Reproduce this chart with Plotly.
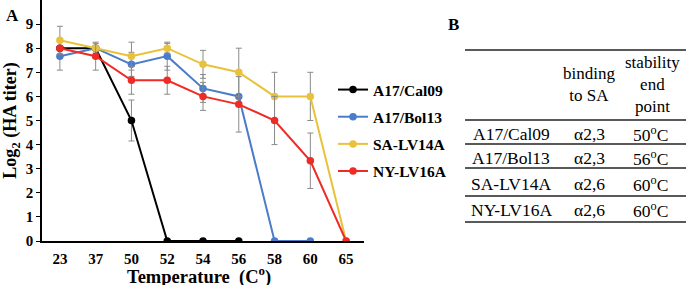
import plotly.graph_objects as go

temps = ["23", "37", "50", "52", "54", "56", "58", "60", "65"]

cal09_x = ["23", "37", "50", "52", "54", "56"]
cal09_y = [8, 8, 5, 0, 0, 0]
cal09_err = [0, 0, 0.85, 0, 0, 0]

bol13_x = ["23", "37", "50", "52", "54", "56", "58", "60"]
bol13_y = [7.67, 8, 7.33, 7.67, 6.33, 6, 0, 0]
bol13_err = [0.58, 0, 0.5, 0.58, 0.58, 0, 0, 0]

sa_x = temps
sa_y = [8.33, 8, 7.67, 8, 7.33, 7, 6, 6, 0]
sa_err = [0.58, 0.2, 0.58, 0.2, 0.58, 1.0, 1.0, 1.0, 0]

ny_x = temps
ny_y = [8, 7.67, 6.67, 6.67, 6, 5.67, 5, 3.33, 0]
ny_err = [0, 0.58, 0.58, 0.58, 0.58, 1.15, 1.0, 1.15, 0]

series = [
    ("A17/Cal09", cal09_x, cal09_y, cal09_err, "#000000"),
    ("A17/Bol13", bol13_x, bol13_y, bol13_err, "#4a7cc9"),
    ("SA-LV14A", sa_x, sa_y, sa_err, "#e8c23a"),
    ("NY-LV16A", ny_x, ny_y, ny_err, "#ee2b24"),
]

tbl_strain = ["A17/Cal09", "A17/Bol13", "SA-LV14A", "NY-LV16A"]
tbl_binding = ["α2,3", "α2,3", "α2,6", "α2,6"]
tbl_end = ["50", "56", "60", "60"]

SERIF = "Liberation Serif"

W, H = 686, 285
L, R, T, B = 42, 322, 0, 44
PW, PH = W - L - R, H - T - B


def px_x(p):
    return (p - L) / PW


def px_y(p):
    return (H - B - p) / PH


fig = go.Figure()
for i, (name, xs, ys, es, col) in enumerate(series):
    fig.add_trace(go.Scatter(
        x=xs, y=ys, name=name, mode="lines+markers",
        line=dict(color=col, width=2),
        marker=dict(color=col, size=7.5),
        error_y=dict(type="data", array=es, visible=True, color="#8a8a8a",
                     thickness=1, width=3),
        legendgroup=f"g{i}",
    ))

fig.update_layout(
    width=W, height=H,
    margin=dict(l=L, r=R, t=T, b=B, pad=0),
    paper_bgcolor="white", plot_bgcolor="white",
    font=dict(family=SERIF, color="black"),
    showlegend=True,
    legend=dict(x=px_x(333), y=px_y(73),
                xanchor="left", yanchor="top",
                font=dict(family=SERIF, size=15.5, color="black", weight="bold"),
                tracegroupgap=4, itemwidth=30, bgcolor="rgba(0,0,0,0)"),
    xaxis=dict(type="category", categoryorder="array", categoryarray=temps,
               range=[-0.5, 8.5], showline=True, linecolor="black", linewidth=1.5,
               showgrid=False, ticks="", zeroline=False, ticklabelstandoff=3,
               tickfont=dict(family=SERIF, size=15, weight="bold")),
    yaxis=dict(range=[0, 10], tickvals=list(range(10)), showline=True,
               linecolor="black", linewidth=1.5, showgrid=False, zeroline=False,
               ticks="outside", ticklen=4, tickcolor="black",
               tickfont=dict(family=SERIF, size=15, weight="bold"),
               title=dict(text="Log<sub>2</sub> (HA titer)", standoff=5,
                          font=dict(family=SERIF, size=18, weight="bold"))),
)

# x-axis title placed below the tick labels
fig.add_annotation(text="<b>Temperature  (C<sup>o</sup>)</b>", xref="paper", yref="paper",
                   x=px_x(199), y=px_y(289), showarrow=False, borderpad=0,
                   font=dict(family=SERIF, size=18.5), xanchor="center", yanchor="bottom")

# Panel labels
fig.add_annotation(text="<b>A</b>", xref="paper", yref="paper",
                   x=px_x(12), y=px_y(15), showarrow=False,
                   font=dict(family=SERIF, size=17), xanchor="center", yanchor="middle")
fig.add_annotation(text="<b>B</b>", xref="paper", yref="paper",
                   x=px_x(453), y=px_y(25), showarrow=False,
                   font=dict(family=SERIF, size=17), xanchor="center", yanchor="middle")

# Table lines
line_ys = [50, 120, 144, 168, 196, 222]
for k, ly in enumerate(line_ys):
    fig.add_shape(type="line", xref="paper", yref="paper",
                  x0=px_x(465), x1=px_x(686), y0=px_y(ly), y1=px_y(ly),
                  line=dict(color="#222222", width=1.6 if k in (0, 5) else 1.3))

col_cx = [511, 589, 650]
tfont = dict(family=SERIF, size=17.5, color="black")
hfont = dict(family=SERIF, size=17, color="black")
fig.add_annotation(text="binding<br>to SA", xref="paper", yref="paper",
                   x=px_x(589), y=px_y(85), showarrow=False, font=hfont,
                   xanchor="center", yanchor="middle")
fig.add_annotation(text="stability<br>end<br>point", xref="paper", yref="paper",
                   x=px_x(652), y=px_y(85), showarrow=False, font=hfont,
                   xanchor="center", yanchor="middle")
row_ys = [134, 158, 184, 210]
for i in range(4):
    vals = [tbl_strain[i], tbl_binding[i], tbl_end[i] + "<sup>o</sup>C"]
    for j in range(3):
        fig.add_annotation(text=vals[j], xref="paper", yref="paper",
                           x=px_x(col_cx[j]), y=px_y(row_ys[i]), showarrow=False,
                           font=tfont, xanchor="center", yanchor="middle")

fig.write_html("out.html", config={"displayModeBar": False},
               post_script="document.body.style.margin='0';document.body.style.overflow='hidden';")
